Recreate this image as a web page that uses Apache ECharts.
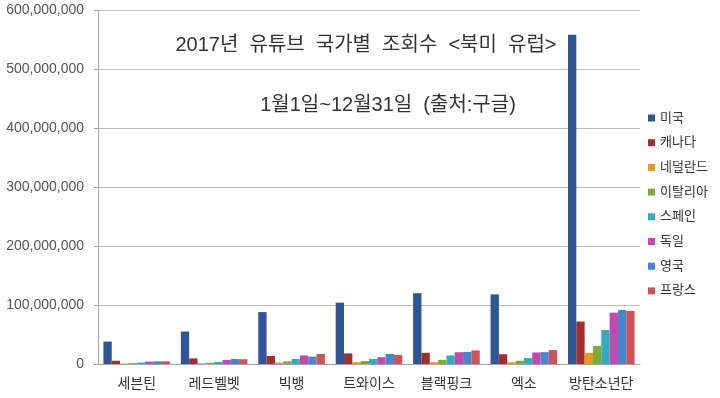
<!DOCTYPE html>
<html>
<head>
<meta charset="utf-8">
<script src="https://cdn.jsdelivr.net/npm/echarts@6/dist/echarts.min.js"></script>
<style>
  html, body { margin: 0; padding: 0; background: #fff; }
  #chart { width: 720px; height: 398px; }
</style>
</head>
<body>
<div id="chart"></div>
<script>
// groups along the x axis
const artists = ['세븐틴', '레드벨벳', '빅뱅', '트와이스', '블랙핑크', '엑소', '방탄소년단'];
const countries = ['미국', '캐나다', '네덜란드', '이탈리아', '스페인', '독일', '영국', '프랑스'];

// views per country, one value per artist
const usViews = [38000000, 55000000, 88000000, 104000000, 120000000, 118000000, 558000000];
const canadaViews = [5500000, 9500000, 13500000, 18000000, 19000000, 16500000, 72000000];
const netherlandsViews = [1000000, 1200000, 2500000, 3000000, 3000000, 3000000, 19000000];
const italyViews = [1500000, 2000000, 4500000, 5000000, 7000000, 5500000, 30500000];
const spainViews = [2500000, 3500000, 8500000, 8500000, 14500000, 10000000, 57500000];
const germanyViews = [4000000, 7000000, 14500000, 11500000, 20000000, 19500000, 87000000];
const ukViews = [4500000, 8500000, 12500000, 17000000, 20500000, 20000000, 91500000];
const franceViews = [4500000, 8000000, 17000000, 15500000, 23000000, 23500000, 90000000];

const yTicks = [0, 100000000, 200000000, 300000000, 400000000, 500000000, 600000000];

const seriesValues = [usViews, canadaViews, netherlandsViews, italyViews, spainViews, germanyViews, ukViews, franceViews];
const colors = ['#2f5597', '#a0302f', '#e39a1e', '#77ab3a', '#35abc1', '#c04aae', '#4a84cc', '#c9555b'];

const font = '"Liberation Sans", "Noto Sans CJK KR", sans-serif';
const chart = echarts.init(document.getElementById('chart'));

chart.setOption({
  animation: false,
  textStyle: { fontFamily: font },
  title: [
    {
      text: '2017년  유튜브  국가별  조회수  <북미  유럽>',
      left: 361, top: 30, textAlign: 'center',
      textStyle: { fontSize: 20, fontWeight: 'normal', color: '#333', fontFamily: font }
    },
    {
      text: '1월1일~12월31일  (출처:구글)',
      left: 383, top: 90, textAlign: 'center',
      textStyle: { fontSize: 20, fontWeight: 'normal', color: '#333', fontFamily: font }
    }
  ],
  legend: {
    orient: 'vertical',
    left: 643, top: 106,
    icon: 'rect',
    itemWidth: 7, itemHeight: 7,
    itemGap: 10.7,
    textStyle: { fontSize: 13, lineHeight: 14, color: '#333' },
    data: countries
  },
  grid: { left: 98, right: 80, top: 10, bottom: 34, containLabel: false },
  xAxis: {
    type: 'category',
    data: artists,
    axisLine: { lineStyle: { color: '#a6a6a6' } },
    axisTick: { length: 4, lineStyle: { color: '#a6a6a6' } },
    axisLabel: { interval: 0, fontSize: 14, color: '#333', margin: 13 }
  },
  yAxis: {
    type: 'value',
    min: yTicks[0], max: yTicks[yTicks.length - 1], interval: yTicks[1] - yTicks[0],
    axisLine: { show: true, lineStyle: { color: '#a6a6a6' } },
    axisTick: { show: true, length: 4, lineStyle: { color: '#a6a6a6' } },
    splitLine: { lineStyle: { color: '#bdbdbd' } },
    axisLabel: {
      fontSize: 14, color: '#555', margin: 14,
      formatter: v => v.toLocaleString('en-US')
    }
  },
  series: countries.map((name, i) => ({
    name,
    type: 'bar',
    data: seriesValues[i],
    itemStyle: { color: colors[i] },
    barGap: '0%',
    barCategoryGap: '14%'
  }))
});
</script>
</body>
</html>
